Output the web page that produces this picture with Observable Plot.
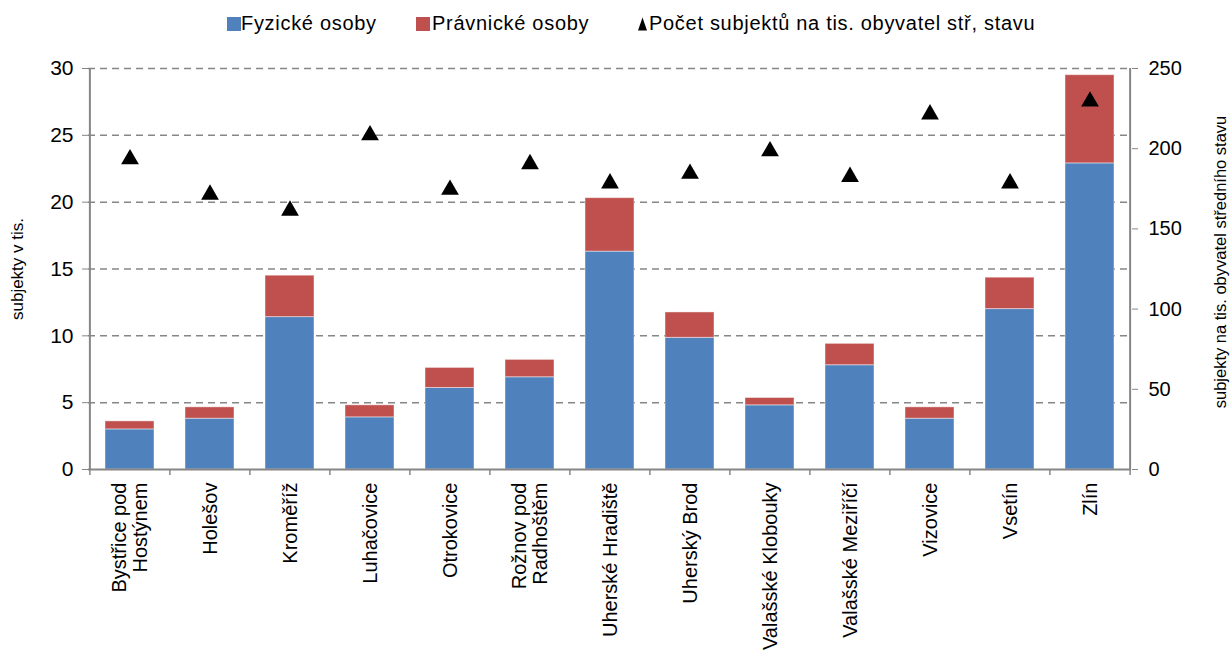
<!DOCTYPE html>
<html>
<head>
<meta charset="utf-8">
<script src="https://cdn.jsdelivr.net/npm/d3@7"></script>
<script src="https://cdn.jsdelivr.net/npm/@observablehq/plot@0.6"></script>
<style>
  html, body { margin: 0; padding: 0; background: #fff; }
  body { width: 1230px; height: 664px; overflow: hidden; font-family: "Liberation Sans", Arial, sans-serif; }
  #legend { position: relative; height: 45px; font-size: 20px; color: #000; }
  .sw { position: absolute; top: 17px; width: 14px; height: 14px; }
  .lt { position: absolute; top: 12px; line-height: 23px; white-space: nowrap; letter-spacing: 0.7px; }
</style>
</head>
<body>
<div id="legend"></div>
<div id="chart"></div>
<script>
const categories = ["Bystřice pod\nHostýnem","Holešov","Kroměříž","Luhačovice","Otrokovice","Rožnov pod\nRadhoštěm","Uherské Hradiště","Uherský Brod","Valašské Klobouky","Valašské Meziříčí","Vizovice","Vsetín","Zlín"];
const seriesNames = ["Fyzické osoby", "Právnické osoby", "Počet subjektů na tis. obyvatel stř, stavu"];
const fyzicke   = [3.0, 3.8, 11.4, 3.9, 6.1, 6.9, 16.3, 9.85, 4.8, 7.8, 3.8, 12.0, 22.9];
const pravnicke = [0.6, 0.85, 3.1, 0.9, 1.5, 1.3, 4.0, 1.9, 0.55, 1.6, 0.85, 2.35, 6.6];
const perThousand = [195, 173, 163, 210, 176, 192, 180, 186, 200, 184, 223, 180, 231];
const leftTicks = [0, 5, 10, 15, 20, 25, 30];
const rightTicks = [0, 50, 100, 150, 200, 250];
const leftTitle = "subjekty v tis.";
const rightTitle = "subjekty na tis. obyvatel středního stavu";

const colors = ["#4F81BD", "#C0504D"];
const grey = "#868686";

// legend (marker left edge, text left edge)
const legendPos = [[227, 241], [416, 432], [637, 649]];
const legend = document.getElementById("legend");
seriesNames.forEach((name, i) => {
  const [mx, tx] = legendPos[i];
  if (i < 2) {
    const sw = document.createElement("div");
    sw.className = "sw";
    sw.style.left = mx + "px";
    sw.style.background = colors[i];
    legend.appendChild(sw);
  } else {
    const s = document.createElementNS("http://www.w3.org/2000/svg", "svg");
    s.setAttribute("width", 11); s.setAttribute("height", 14);
    s.style.position = "absolute"; s.style.left = mx + "px"; s.style.top = "17px";
    s.innerHTML = '<polygon points="1,13.5 10,13.5 5.5,0.5" fill="#000"/>';
    legend.appendChild(s);
  }
  const t = document.createElement("span");
  t.className = "lt";
  t.style.left = tx + "px";
  t.textContent = name;
  legend.appendChild(t);
});

const rows = [];
categories.forEach((c, i) => rows.push({city: c, series: seriesNames[0], value: fyzicke[i]}));
categories.forEach((c, i) => rows.push({city: c, series: seriesNames[1], value: pravnicke[i]}));
const pts = categories.map((c, i) => ({city: c, v: perThousand[i]}));

const width = 1230, height = 619;
const mL = 88, mR = 99, mT = 23, mB = 195;
const step = (width - mL - mR) / categories.length;
const k = leftTicks[leftTicks.length - 1] / rightTicks[rightTicks.length - 1];

const chart = Plot.plot({
  width, height,
  marginLeft: mL, marginRight: mR, marginTop: mT, marginBottom: mB,
  style: {fontFamily: "'Liberation Sans', Arial, sans-serif", fontSize: "20px", color: "#000", background: "#fff"},
  x: {type: "band", domain: categories, paddingInner: 0.39, paddingOuter: 0.195, axis: null},
  y: {domain: [0, 30], axis: null},
  color: {domain: seriesNames.slice(0, 2), range: colors},
  marks: [
    Plot.ruleY(leftTicks.slice(1), {stroke: grey, strokeWidth: 1.5, strokeDasharray: "7,5"}),
    Plot.barY(rows, {x: "city", y: "value", fill: "series", stroke: "#fff", strokeWidth: 1, strokeOpacity: 0.45}),
    // axis lines
    Plot.ruleY([0], {stroke: grey, strokeWidth: 2}),
    Plot.ruleX([categories[0]], {y1: 0, y2: 30, dx: -step / 2, stroke: grey, strokeWidth: 2}),
    Plot.ruleX([categories[categories.length - 1]], {y1: 0, y2: 30, dx: step / 2, stroke: grey, strokeWidth: 2}),
    // x boundary ticks
    Plot.ruleX(categories, {x: d => d, y1: 0, y2: 0, insetTop: 6, dx: -step / 2, stroke: grey, strokeWidth: 1.5}),
    Plot.ruleX([categories[categories.length - 1]], {y1: 0, y2: 0, insetTop: 6, dx: step / 2, stroke: grey, strokeWidth: 1.5}),
    // left axis
    Plot.axisY({ticks: leftTicks, anchor: "left", tickSize: 6, tickPadding: 9, stroke: grey, fill: "#000", fontSize: 21, label: null}),
    // right axis
    Plot.axisY({ticks: rightTicks.map(v => v * k), tickFormat: d => String(Math.round(d / k)), anchor: "right", tickSize: 6, tickPadding: 11, stroke: grey, fill: "#000", fontSize: 20, label: null}),
    // x labels
    Plot.text(categories, {x: d => d, y: 0, text: d => d, rotate: -90, textAnchor: "end", lineAnchor: "middle", lineHeight: 1.05, dy: 13, fontSize: 20, fill: "#000"}),
    // triangles
    Plot.dot(pts, {x: "city", y: d => d.v * k, symbol: "triangle", r: 6.6, fill: "#000", dy: 2.5}),
    // axis titles
    Plot.text([leftTitle], {frameAnchor: "left", text: d => d, rotate: -90, textAnchor: "middle", dx: -71, fontSize: 17, fill: "#000"}),
    Plot.text([rightTitle], {frameAnchor: "right", text: d => d, rotate: -90, textAnchor: "middle", dx: 89, dy: -7, fontSize: 16.5, fill: "#000"})
  ]
});
document.getElementById("chart").appendChild(chart);
</script>
</body>
</html>
